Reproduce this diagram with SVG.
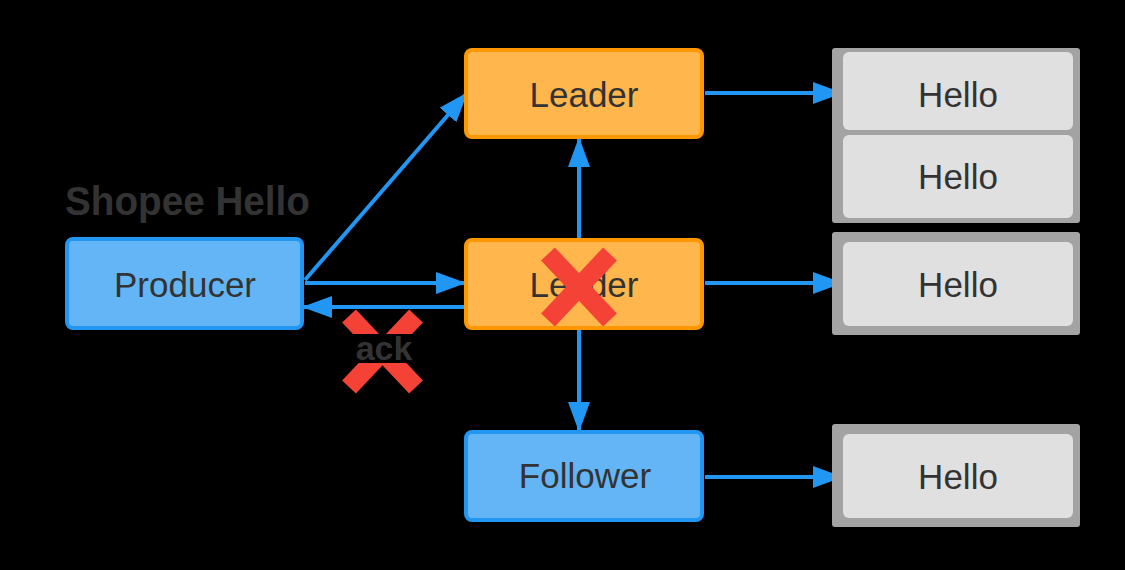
<svg xmlns="http://www.w3.org/2000/svg" width="1125" height="570" viewBox="0 0 1125 570">
<defs>
<style>
.lbl{font-family:"Liberation Sans",Arial,sans-serif;font-size:35px;fill:#333;text-anchor:middle}
.orange{fill:#ffb74d;stroke:#ff9800;stroke-width:4}
.blue{fill:#64b5f6;stroke:#2196f3;stroke-width:4}
.grayo{fill:#a3a3a3}
.grayi{fill:#e0e0e0}
.conn{stroke:#2196f3;stroke-width:4;fill:none;marker-end:url(#ah)}
.x{stroke:#f44336;stroke-width:19;stroke-linecap:butt}
</style>
<marker id="ah" viewBox="0 0 30 22" refX="29" refY="11" markerWidth="30" markerHeight="22" markerUnits="userSpaceOnUse" orient="auto">
<path d="M0,0 L30,11 L0,22 z" fill="#2196f3"/>
</marker>
</defs>
<rect width="1125" height="570" fill="#000"/>
<text x="65" y="215" textLength="245" lengthAdjust="spacingAndGlyphs" style="font-family:'Liberation Sans',Arial,sans-serif;font-size:40px;font-weight:bold;fill:#333">Shopee Hello</text>
<g id="connectors">
<line class="conn" x1="305" y1="280" x2="467" y2="93"/>
<line class="conn" x1="305" y1="283" x2="465" y2="283"/>
<line class="conn" x1="466" y1="307" x2="303" y2="307"/>
<line class="conn" x1="579" y1="240" x2="579" y2="138"/>
<line class="conn" x1="579" y1="328" x2="579" y2="431"/>
<line class="conn" x1="705" y1="93" x2="842" y2="93"/>
<line class="conn" x1="705" y1="283" x2="842" y2="283"/>
<line class="conn" x1="705" y1="477" x2="842" y2="477"/>
</g>
<g id="producer">
<rect class="blue" x="67" y="239" width="235" height="89" rx="6"/>
<text class="lbl" x="185" y="297">Producer</text>
</g>
<g id="leader-top">
<rect class="orange" x="466" y="50" width="236" height="87" rx="6"/>
<text class="lbl" x="584" y="107">Leader</text>
</g>
<g id="leader-mid">
<rect class="orange" x="466" y="240" width="236" height="88" rx="6"/>
<text class="lbl" x="584" y="297">Leader</text>
</g>
<g id="follower">
<rect class="blue" x="466" y="432" width="236" height="88" rx="6"/>
<text class="lbl" x="585" y="488">Follower</text>
</g>
<g id="hello-pair">
<rect class="grayo" x="832" y="48" width="248" height="175" rx="3"/>
<rect class="grayi" x="843" y="52" width="230" height="78" rx="6"/>
<text class="lbl" x="958" y="107">Hello</text>
<rect class="grayi" x="843" y="135" width="230" height="83" rx="6"/>
<text class="lbl" x="958" y="189">Hello</text>
</g>
<g id="hello-mid">
<rect class="grayo" x="832" y="232" width="248" height="103" rx="3"/>
<rect class="grayi" x="843" y="242" width="230" height="84" rx="6"/>
<text class="lbl" x="958" y="297">Hello</text>
</g>
<g id="hello-bottom">
<rect class="grayo" x="832" y="424" width="248" height="103" rx="3"/>
<rect class="grayi" x="843" y="434" width="230" height="84" rx="6"/>
<text class="lbl" x="958" y="489">Hello</text>
</g>
<g id="x-leader">
<line class="x" x1="548" y1="254" x2="610" y2="320"/>
<line class="x" x1="610" y1="254" x2="548" y2="320"/>
</g>
<g id="ack">
<line class="x" x1="349" y1="316" x2="416" y2="387"/>
<line class="x" x1="416" y1="316" x2="349" y2="387"/>
<rect x="351" y="334" width="66" height="29" fill="#000"/>
<text x="384" y="360" style="font-family:'Liberation Sans',Arial,sans-serif;font-size:34px;font-weight:bold;fill:#333;text-anchor:middle">ack</text>
</g>
</svg>
